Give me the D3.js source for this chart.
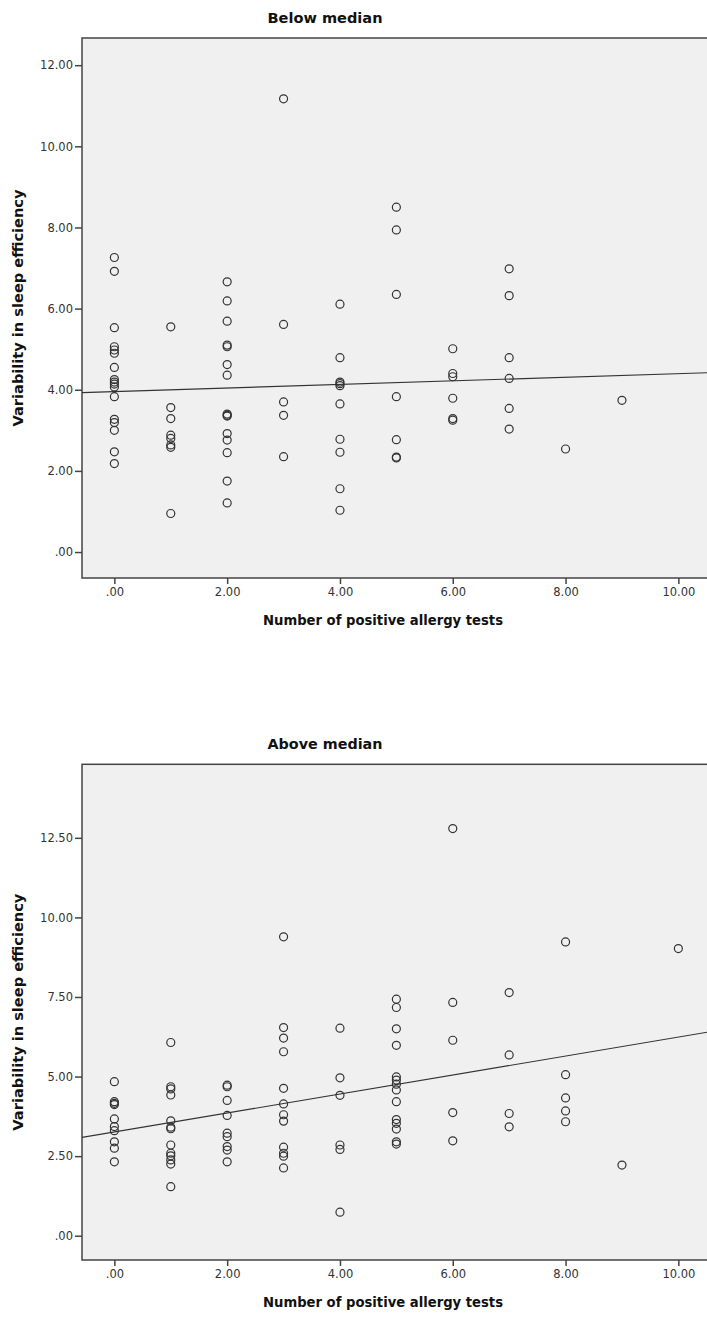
<!DOCTYPE html>
<html>
<head>
<meta charset="utf-8">
<script src="https://cdn.jsdelivr.net/npm/d3@7"></script>
<style>
  html, body { margin: 0; padding: 0; background: #fff; }
  svg { display: block; }
</style>
</head>
<body>
<svg id="chart" width="707" height="1317"></svg>
<script>
// ---- Data: Below median panel ----
const belowX = [
  0,0,0,0,0,0,0,0,0,0,0,0,0,0,0,0,0,
  1,1,1,1,1,1,1,1,
  2,2,2,2,2,2,2,2,2,2,2,2,2,2,2,
  3,3,3,3,3,
  4,4,4,4,4,4,4,4,4,4,
  5,5,5,5,5,5,5,
  6,6,6,6,6,6,
  7,7,7,7,7,7,
  8,
  9
];
const belowY = [
  7.26,6.92,5.53,5.06,4.98,4.90,4.55,4.25,4.19,4.14,4.07,3.83,3.27,3.19,3.00,2.47,2.18,
  5.55,3.56,3.29,2.88,2.80,2.64,2.58,0.95,
  6.66,6.19,5.69,5.10,5.06,4.62,4.36,3.40,3.37,3.35,2.92,2.76,2.45,1.75,1.21,
  11.17,5.61,3.70,3.37,2.35,
  6.11,4.79,4.19,4.15,4.10,3.65,2.78,2.46,1.56,1.03,
  8.50,7.94,6.35,3.83,2.77,2.34,2.32,
  5.01,4.40,4.32,3.79,3.29,3.25,
  6.98,6.32,4.79,4.28,3.54,3.03,
  2.54,
  3.74
];
const belowFit = [3.955, 0.044];   // intercept, slope
const belowYTicks = [0, 2, 4, 6, 8, 10, 12];

// ---- Data: Above median panel ----
const aboveX = [
  0,0,0,0,0,0,0,0,0,0,
  1,1,1,1,1,1,1,1,1,1,1,1,1,
  2,2,2,2,2,2,2,2,2,
  3,3,3,3,3,3,3,3,3,3,3,3,
  4,4,4,4,4,4,
  5,5,5,5,5,5,5,5,5,5,5,5,5,5,
  6,6,6,6,6,
  7,7,7,7,
  8,8,8,8,8,
  9,
  10
];
const aboveY = [
  4.84,4.21,4.16,4.12,3.67,3.43,3.30,2.95,2.75,2.32,
  6.07,4.68,4.61,4.42,3.61,3.41,3.36,2.85,2.59,2.51,2.38,2.25,1.54,
  4.73,4.68,4.25,3.78,3.22,3.11,2.80,2.69,2.32,
  9.39,6.54,6.21,5.78,4.63,4.14,3.80,3.60,2.78,2.59,2.50,2.13,
  6.52,4.96,4.41,2.85,2.71,0.74,
  7.43,7.17,6.50,5.98,4.99,4.89,4.76,4.58,4.21,3.65,3.53,3.35,2.95,2.88,
  12.79,7.33,6.14,3.87,2.98,
  7.64,5.68,3.84,3.42,
  9.23,5.06,4.33,3.92,3.58,
  2.22,
  9.02
];
const aboveFit = [3.26, 0.298];
const aboveYTicks = [0, 2.5, 5, 7.5, 10, 12.5];

const xTicks = [0, 2, 4, 6, 8, 10];
const titles = ["Below median", "Above median"];
const xTitle = "Number of positive allergy tests";
const yTitle = "Variability in sleep efficiency";

// ---- Drawing ----
const svg = d3.select("#chart");
const fmt = v => {
  const s = d3.format(".2f")(v);
  return s.startsWith("0.") ? s.slice(1) : s;
};

const panels = [
  { xs: belowX, ys: belowY, fit: belowFit, yTicks: belowYTicks, title: titles[0],
    top: 38, bottom: 578, yDomain: [-0.64, 12.67] },
  { xs: aboveX, ys: aboveY, fit: aboveFit, yTicks: aboveYTicks, title: titles[1],
    top: 764.3, bottom: 1260, yDomain: [-0.763, 14.81] }
];

const left = 82, right = 712.2;

panels.forEach(p => {
  const x = d3.scaleLinear().domain([-0.574, 10.6]).range([left, right]);
  const y = d3.scaleLinear().domain(p.yDomain).range([p.bottom, p.top]);
  const g = svg.append("g");

  // plot background and frame
  g.append("rect")
    .attr("x", left).attr("y", p.top)
    .attr("width", right - left).attr("height", p.bottom - p.top)
    .attr("fill", "#f0f0f0")
    .attr("stroke", "#444").attr("stroke-width", 1.5);

  // clip for contents
  const cid = "clip" + Math.round(p.top);
  svg.append("clipPath").attr("id", cid)
    .append("rect").attr("x", left).attr("y", p.top)
    .attr("width", right - left).attr("height", p.bottom - p.top);

  // y axis
  const yAxis = d3.axisLeft(y).tickValues(p.yTicks).tickFormat(fmt).tickSize(7).tickPadding(2);
  const ya = g.append("g").attr("transform", `translate(${left},0)`).call(yAxis);
  ya.select(".domain").remove();
  ya.selectAll("line").attr("stroke", "#444").attr("stroke-width", 1.5);
  ya.selectAll("text").attr("fill", "#333")
    .style("font-family", "DejaVu Sans, sans-serif").style("font-size", "11.5px");

  // x axis
  const xAxis = d3.axisBottom(x).tickValues(xTicks).tickFormat(fmt).tickSize(6).tickPadding(4);
  const xa = g.append("g").attr("transform", `translate(0,${p.bottom})`).call(xAxis);
  xa.select(".domain").remove();
  xa.selectAll("line").attr("stroke", "#444").attr("stroke-width", 1.5);
  xa.selectAll("text").attr("fill", "#333")
    .style("font-family", "DejaVu Sans, sans-serif").style("font-size", "11.5px");

  const inner = g.append("g").attr("clip-path", `url(#${cid})`);

  // fit line
  const x0 = x.domain()[0], x1 = x.domain()[1];
  inner.append("line")
    .attr("x1", x(x0)).attr("y1", y(p.fit[0] + p.fit[1] * x0))
    .attr("x2", x(x1)).attr("y2", y(p.fit[0] + p.fit[1] * x1))
    .attr("stroke", "#333").attr("stroke-width", 1.1);

  // points
  inner.selectAll("circle")
    .data(p.xs.map((v, i) => [v, p.ys[i]]))
    .enter().append("circle")
    .attr("cx", d => x(d[0])).attr("cy", d => y(d[1]))
    .attr("r", 4)
    .attr("fill", "none")
    .attr("stroke", "#333").attr("stroke-width", 1.2);

  // titles
  g.append("text")
    .attr("x", 325).attr("y", p.top - 15)
    .attr("text-anchor", "middle")
    .style("font-family", "DejaVu Sans, sans-serif").style("font-weight", "bold")
    .style("font-size", "14.5px").attr("fill", "#111")
    .attr("textLength", 115).attr("lengthAdjust", "spacingAndGlyphs")
    .text(p.title);

  g.append("text")
    .attr("x", 383).attr("y", p.bottom + 47)
    .attr("text-anchor", "middle")
    .style("font-family", "DejaVu Sans, sans-serif").style("font-weight", "bold")
    .style("font-size", "14px").attr("fill", "#111")
    .attr("textLength", 240).attr("lengthAdjust", "spacingAndGlyphs")
    .text(xTitle);

  g.append("text")
    .attr("transform", `translate(23,${(p.top + p.bottom) / 2}) rotate(-90)`)
    .attr("text-anchor", "middle")
    .style("font-family", "DejaVu Sans, sans-serif").style("font-weight", "bold")
    .style("font-size", "14px").attr("fill", "#111")
    .attr("textLength", 237).attr("lengthAdjust", "spacingAndGlyphs")
    .text(yTitle);
});
</script>
</body>
</html>
